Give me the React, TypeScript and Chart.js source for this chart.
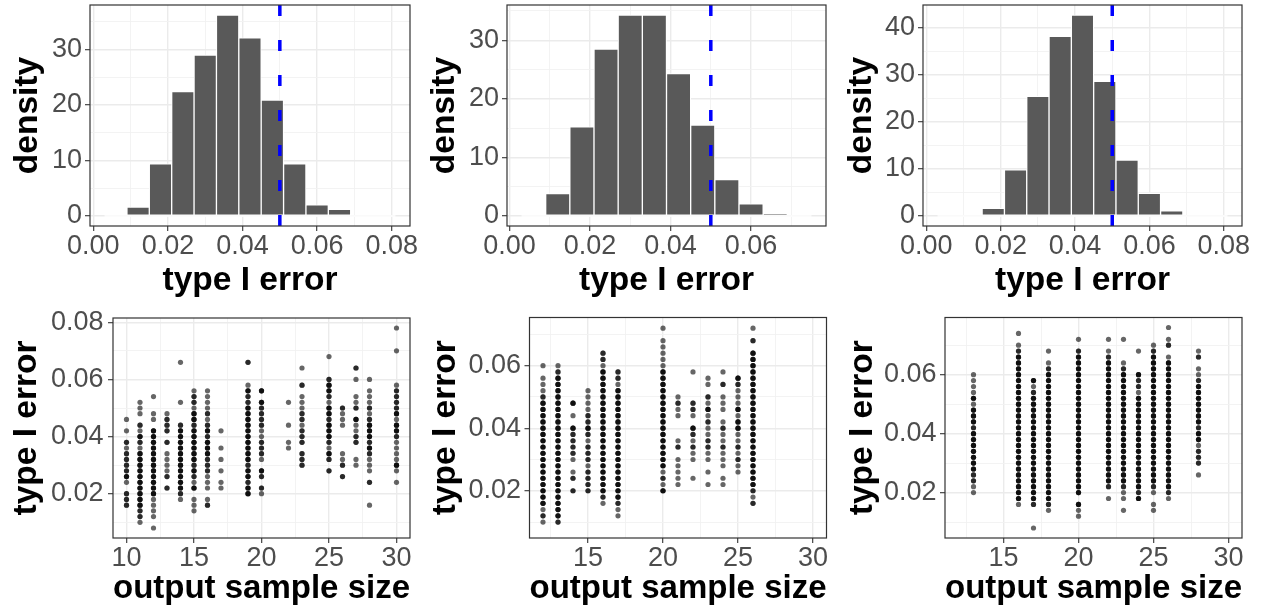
import React, { useEffect, useRef } from "react";
import { Chart, registerables } from "chart.js";

Chart.register(...registerables);

const FONT = "'Liberation Sans', Arimo, Arial, Helvetica, sans-serif";

// ---------------- Histogram data (top row) ----------------
const BIN_WIDTH = 0.006;
const HIST_MIDS_A = [0.006, 0.012, 0.018, 0.024, 0.03, 0.036, 0.042, 0.048, 0.054, 0.06, 0.066, 0.072, 0.078];
const HIST_MIDS_B = [0.006, 0.012, 0.018, 0.024, 0.03, 0.036, 0.042, 0.048, 0.054, 0.06, 0.066, 0.072];
const HIST1_DENSITY = [0, 1.6, 9.4, 22.4, 29.0, 36.2, 32.1, 20.9, 9.4, 2.0, 1.2, 0, 0];
const HIST2_DENSITY = [0, 3.8, 15.2, 28.5, 34.3, 34.3, 24.3, 15.5, 6.2, 2.05, 0.3, 0];
const HIST3_DENSITY = [0, 0, 1.6, 9.8, 25.4, 38.2, 42.7, 28.6, 11.9, 4.8, 1.1, 0, 0];
const NOMINAL_LEVEL = 0.05;

// ---------------- Scatter data (bottom row) ----------------
// Each column: output sample size x, lowest type I error value in the column,
// and the number of simulations at each successive 0.002 level (0 = none).
const LEVEL_STEP = 0.002;

const S1_X = [10, 11, 12, 13, 14, 15, 16, 17, 19, 20, 22, 23, 25, 26, 27, 28, 30];
const S1_LOW = [0.016, 0.010, 0.008, 0.022, 0.018, 0.014, 0.016, 0.022, 0.020, 0.020, 0.036, 0.030, 0.028, 0.026, 0.030, 0.016, 0.024];
const S1_COUNTS = [
  "2220132222120101",
  "1223333333333123120111",
  "101111 33333 33333 33 011001",
  "20211110202221",
  "12 33333 33333 3 2 000 1 000000 1",
  "1110312323333332331221",
  "210111222333232121111",
  "11010101001",
  "332332 33333 33333 2231 000 2",
  "1202301222112222303",
  "110010001",
  "222022212211102001",
  "202312333233123320001",
  "2021100001112",
  "110022113021100102",
  "10002011123233321211101",
  "1013111123313222210000010001",
];

const S2_X = [12, 13, 14, 15, 16, 17, 20, 21, 22, 23, 24, 25, 26];
const S2_LOW = [0.010, 0.010, 0.020, 0.020, 0.016, 0.012, 0.020, 0.022, 0.024, 0.022, 0.022, 0.026, 0.016];
const S2_COUNTS = [
  "121 33333 33333 33333 33 211101",
  "2 33333 33333 33333 33333 333 21",
  "202101222230103",
  "22221222123221111",
  "12 33333 33333 33333 33333 122",
  "112 33333 33333 33333 333 122",
  "31213 33333 33333 33333 11111 01",
  "111110210001121",
  "100112123012200001",
  "101011221121312011",
  "1101112112101110201",
  "1121211331311123",
  "212 33333 33333 33333 33333 33 0201",
];

const S3_X = [13, 16, 17, 18, 20, 22, 23, 24, 25, 26, 28];
const S3_LOW = [0.020, 0.016, 0.008, 0.014, 0.012, 0.018, 0.014, 0.018, 0.014, 0.018, 0.026];
const S3_COUNTS = [
  "112233333332333131111",
  "1 33333 33333 33333 33333 33333 2101",
  "10002 33333 33333 33333 333 213",
  "12 33333 33333 33333 33333 33 2101",
  "1130 33333 33333 33333 33333 3333 201",
  "102 33333 33333 33333 33333 3 2101",
  "10112 33333 33333 33333 3333 210001",
  "32 33333 33333 33333 3 1223 0001",
  "11012 33333 33333 33333 33333 33 21",
  "12 33333 33333 33333 33333 33 102101",
  "1022213323333333211021",
];

// ---------------- Axis ticks ----------------
const HIST_X_MAJOR = [0, 0.02, 0.04, 0.06, 0.08];
const HIST_X_MINOR = [0.01, 0.03, 0.05, 0.07];
const HIST_Y_MAJOR = [0, 10, 20, 30, 40];
const HIST_Y_MINOR = [5, 15, 25, 35];
const SC_X_MAJOR = [10, 15, 20, 25, 30];
const SC_X_MINOR = [12.5, 17.5, 22.5, 27.5];
const SC_Y_MAJOR = [0.02, 0.04, 0.06, 0.08];
const SC_Y_MINOR = [0.01, 0.03, 0.05, 0.07];

function columnPoints(xs: number[], lows: number[], counts: string[]) {
  const pts: { x: number; y: number }[] = [];
  xs.forEach((x, i) => {
    const digits = counts[i].replace(/\s+/g, "");
    for (let j = 0; j < digits.length; j++) {
      const n = Number(digits[j]);
      const y = Math.round((lows[i] + j * LEVEL_STEP) * 1000) / 1000;
      for (let c = 0; c < n; c++) pts.push({ x, y });
    }
  });
  return pts;
}

type AxisDef = { min: number; max: number; major: number[]; minor: number[]; digits: number; title: string };
type PanelDef = {
  id: string;
  kind: "hist" | "scatter";
  cellX: number; cellY: number; cellW: number; cellH: number;
  plotL: number; plotR: number; plotT: number; plotB: number;
  yTitleCenter: number; yLabelPad: number;
  x: AxisDef; y: AxisDef;
  mids?: number[]; dens?: number[];
  points?: { x: number; y: number }[];
};

const histX = (min: number, max: number): AxisDef => ({ min, max, major: HIST_X_MAJOR, minor: HIST_X_MINOR, digits: 2, title: "type I error" });
const histY = (min: number, max: number): AxisDef => ({ min, max, major: HIST_Y_MAJOR, minor: HIST_Y_MINOR, digits: 0, title: "density" });
const scX = (min: number, max: number): AxisDef => ({ min, max, major: SC_X_MAJOR, minor: SC_X_MINOR, digits: 0, title: "output sample size" });
const scY = (min: number, max: number): AxisDef => ({ min, max, major: SC_Y_MAJOR, minor: SC_Y_MINOR, digits: 2, title: "type I error" });

const PANELS: PanelDef[] = [
  { id: "h1", kind: "hist", cellX: 0, cellY: 0, cellW: 421, cellH: 307, plotL: 90, plotR: 410, plotT: 5, plotB: 226, yTitleCenter: 28, yLabelPad: 3,
    x: histX(-0.0009, 0.0849), y: histY(-1.81, 38.01), mids: HIST_MIDS_A, dens: HIST1_DENSITY },
  { id: "h2", kind: "hist", cellX: 421, cellY: 0, cellW: 421, cellH: 307, plotL: 507, plotR: 826, plotT: 5, plotB: 226, yTitleCenter: 24, yLabelPad: 3,
    x: histX(-0.0006, 0.0786), y: histY(-1.715, 36.015), mids: HIST_MIDS_B, dens: HIST2_DENSITY },
  { id: "h3", kind: "hist", cellX: 842, cellY: 0, cellW: 421, cellH: 307, plotL: 923, plotR: 1242, plotT: 5, plotB: 226, yTitleCenter: 20, yLabelPad: 3,
    x: histX(-0.0009, 0.0849), y: histY(-2.135, 44.835), mids: HIST_MIDS_A, dens: HIST3_DENSITY },
  { id: "s1", kind: "scatter", cellX: 0, cellY: 307, cellW: 421, cellH: 308, plotL: 113, plotR: 410, plotT: 318, plotB: 538, yTitleCenter: 26.7, yLabelPad: 4.5,
    x: scX(9, 31), y: scY(0.0045, 0.0815), points: columnPoints(S1_X, S1_LOW, S1_COUNTS) },
  { id: "s2", kind: "scatter", cellX: 421, cellY: 307, cellW: 421, cellH: 308, plotL: 529.5, plotR: 826.5, plotT: 317.5, plotB: 538, yTitleCenter: 25, yLabelPad: 3.5,
    x: scX(11.1, 30.9), y: scY(0.0049, 0.0754), points: columnPoints(S2_X, S2_LOW, S2_COUNTS) },
  { id: "s3", kind: "scatter", cellX: 842, cellY: 307, cellW: 421, cellH: 308, plotL: 945, plotR: 1242, plotT: 317.5, plotB: 538, yTitleCenter: 20.7, yLabelPad: 3.5,
    x: scX(11.1, 30.9), y: scY(0.0046, 0.0794), points: columnPoints(S3_X, S3_LOW, S3_COUNTS) },
];

const TITLE_SIZE = 33.5;
const TITLE_FONT = { family: FONT, size: TITLE_SIZE, weight: "bold" as const, lineHeight: 1.2 };
const TITLE_HALF = (TITLE_SIZE * 1.2) / 2;
const TICK_FONT = { family: FONT, size: 27, lineHeight: 1 };

function makeScale(axis: AxisDef, isX: boolean, fit: number, titlePad: number, labelPad: number) {
  const all = [...axis.major, ...axis.minor]
    .filter((v) => v >= axis.min && v <= axis.max)
    .sort((a, b) => a - b);
  const isMajor = (v: number) => axis.major.some((m) => Math.abs(m - v) < 1e-9);
  return {
    type: "linear",
    position: isX ? "bottom" : "left",
    min: axis.min,
    max: axis.max,
    offset: false,
    afterBuildTicks: (s: any) => {
      s.ticks = all.map((v) => ({ value: v }));
    },
    afterFit: (s: any) => {
      if (isX) s.height = fit;
      else s.width = fit;
      s.paddingLeft = 0;
      s.paddingRight = 0;
      s.paddingTop = 0;
      s.paddingBottom = 0;
    },
    ticks: {
      autoSkip: false,
      maxRotation: 0,
      minRotation: 0,
      padding: labelPad,
      color: "#4D4D4D",
      font: TICK_FONT,
      callback: (value: any) => (isMajor(Number(value)) ? Number(value).toFixed(axis.digits) : ""),
    },
    grid: {
      offset: false,
      drawTicks: true,
      tickLength: 5,
      tickWidth: 1.1,
      color: (c: any) => (c.tick && isMajor(c.tick.value) ? "#EBEBEB" : "#F2F2F2"),
      lineWidth: (c: any) => (c.tick && isMajor(c.tick.value) ? 1.4 : 0.9),
      tickColor: (c: any) => (c.tick && isMajor(c.tick.value) ? "#333333" : "rgba(0,0,0,0)"),
    },
    border: { display: false },
    title: {
      display: true,
      text: axis.title,
      color: "#000000",
      font: TITLE_FONT,
      padding: isX ? { top: 0, bottom: titlePad } : { top: titlePad, bottom: 0 },
    },
  };
}

const framePlugin = {
  id: "frame",
  beforeDatasetsDraw(chart: any, _args: any, opts: any) {
    if (!opts || opts.baseFrom === undefined) return;
    const { ctx, scales } = chart;
    const y0 = scales.y.getPixelForValue(0);
    ctx.save();
    ctx.strokeStyle = "#FFFFFF";
    ctx.lineWidth = 1.4;
    ctx.beginPath();
    ctx.moveTo(scales.x.getPixelForValue(opts.baseFrom), y0);
    ctx.lineTo(scales.x.getPixelForValue(opts.baseTo), y0);
    ctx.stroke();
    ctx.restore();
  },
  afterDatasetsDraw(chart: any, _args: any, opts: any) {
    const { ctx, chartArea: a, scales } = chart;
    ctx.save();
    if (opts && opts.vline !== undefined) {
      const px = scales.x.getPixelForValue(opts.vline);
      ctx.beginPath();
      ctx.setLineDash([11, 24]);
      ctx.strokeStyle = "#0000FF";
      ctx.lineWidth = 3.5;
      ctx.moveTo(px, a.top);
      ctx.lineTo(px, a.bottom);
      ctx.stroke();
      ctx.setLineDash([]);
    }
    ctx.strokeStyle = "#333333";
    ctx.lineWidth = 1.2;
    ctx.strokeRect(a.left, a.top, a.right - a.left, a.bottom - a.top);
    ctx.restore();
  },
};

function buildConfig(p: PanelDef): any {
  const xFit = p.cellY + p.cellH - p.plotB;
  const yFit = p.plotL - p.cellX;
  const scales = {
    x: makeScale(p.x, true, xFit, 308 - 282 - TITLE_HALF, 2),
    y: makeScale(p.y, false, yFit, p.yTitleCenter - TITLE_HALF, p.yLabelPad),
  };
  const common = {
    responsive: false,
    maintainAspectRatio: false,
    animation: false,
    devicePixelRatio: 1,
    events: [],
    layout: {
      autoPadding: false,
      padding: { left: 0, top: p.plotT - p.cellY, right: p.cellX + p.cellW - p.plotR, bottom: 0 },
    },
    scales,
  };
  if (p.kind === "hist") {
    const mids = p.mids!;
    return {
      type: "bar",
      data: {
        datasets: [
          {
            data: mids.map((x, i) => ({ x, y: p.dens![i] })),
            backgroundColor: "#595959",
            borderColor: "#FFFFFF",
            borderWidth: 1,
            borderSkipped: false,
            barPercentage: 1,
            categoryPercentage: 1,
            grouped: false,
          },
        ],
      },
      options: {
        ...common,
        plugins: {
          legend: { display: false },
          tooltip: { enabled: false },
          frame: { vline: NOMINAL_LEVEL, baseFrom: mids[0] - BIN_WIDTH / 2, baseTo: mids[mids.length - 1] + BIN_WIDTH / 2 },
        },
      },
      plugins: [framePlugin],
    };
  }
  return {
    type: "scatter",
    data: {
      datasets: [
        {
          data: p.points,
          pointRadius: 2.6,
          pointHoverRadius: 2.6,
          pointBackgroundColor: "rgba(0,0,0,0.6)",
          pointBorderWidth: 0,
          pointBorderColor: "rgba(0,0,0,0)",
          showLine: false,
        },
      ],
    },
    options: {
      ...common,
      plugins: { legend: { display: false }, tooltip: { enabled: false }, frame: {} },
    },
    plugins: [framePlugin],
  };
}

function PanelChart({ p }: { p: PanelDef }) {
  const ref = useRef<HTMLCanvasElement | null>(null);
  useEffect(() => {
    if (!ref.current) return;
    const chart = new Chart(ref.current, buildConfig(p));
    return () => chart.destroy();
  }, [p]);
  return (
    <canvas
      ref={ref}
      width={p.cellW}
      height={p.cellH}
      style={{ position: "absolute", left: p.cellX, top: p.cellY, width: p.cellW, height: p.cellH }}
    />
  );
}

export default function App() {
  return (
    <div style={{ position: "absolute", left: 0, top: 0, width: 1263, height: 615, background: "#FFFFFF", overflow: "hidden" }}>
      {PANELS.map((p) => (
        <PanelChart key={p.id} p={p} />
      ))}
    </div>
  );
}
